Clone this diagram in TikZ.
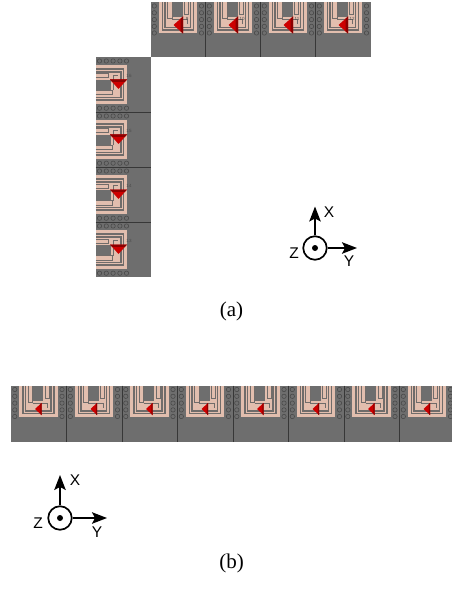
\documentclass[tikz,border=0pt]{standalone}
\usepackage{fontspec}
\setmainfont{Liberation Serif}
\newfontfamily\axisfont{Liberation Sans}
\usetikzlibrary{arrows.meta}
\definecolor{basegray}{RGB}{110,110,110}
\definecolor{copper}{RGB}{226,190,174}
\definecolor{linegray}{RGB}{112,108,106}
\definecolor{viared}{RGB}{205,0,0}
\definecolor{viadark}{RGB}{140,0,0}
\tikzset{
  x=1pt,y=-1pt,
  base/.style={fill=basegray,draw=none},
  seam/.style={draw=black!50!basegray,line width=.6pt},
  padring/.style={draw=black!35!basegray,line width=.55pt,fill=basegray},
  trace/.style={draw=linegray,line width=1.5pt},
  inner trace/.style={draw=linegray,line width=1pt},
  marker/.style={fill=viared,draw=none},
  markerdark/.style={fill=viadark,draw=none},
  axisline/.style={line width=1.4pt,-{Stealth[length=15pt,width=11.5pt,inset=3pt]}},
  axisring/.style={circle,draw=black,line width=1.7pt,minimum size=23.5pt,inner sep=0pt},
  axisdot/.style={circle,fill=black,minimum size=6pt,inner sep=0pt},
  axislabel/.style={font=\axisfont\fontsize{15.5}{15.5}\selectfont,inner sep=0pt},
  caption/.style={font=\fontsize{21}{21}\selectfont,inner sep=0pt},
  tiny label/.style={font=\axisfont\fontsize{4.5}{4.5}\selectfont,inner sep=0pt,text=black!70}
}
% one cell in local coordinates: opening towards local top, width #1
\newcommand{\unitcell}[1]{%
  \fill[base] (0,0) rectangle (#1,55);
  \foreach \dy in {4,10.8,17.6,24.4,31}{
    \draw[padring] (3.8,\dy) circle (2.2);
    \draw[padring] (51,\dy) circle (2.2);
  }
  \fill[copper] (8,0) rectangle (46.8,31.5);
  \draw[trace] (12,0) -- (12,28) -- (42.8,28) -- (42.8,0);
  \draw[trace] (14.7,0) -- (14.7,25.3) -- (40.1,25.3) -- (40.1,0);
  \fill[basegray] (22,0) rectangle (32,15);
  \draw[inner trace] (17,0) -- (17,17) -- (21.5,17) -- (21.5,0);
  \draw[inner trace] (34,0) -- (34,13) -- (38,13) -- (38,0);
  \draw[inner trace] (21.5,17.5) -- (36.5,17.5) -- (36.5,22);
}
\newcommand{\bigvia}{%
  \fill[marker] (23,23) -- (32.5,14.5) -- (32.5,31.5) -- cycle;
  \fill[markerdark] (30.2,16.5) -- (32.5,14.5) -- (32.5,31.5) -- (30.2,29.5) -- cycle;
}
\begin{document}
\begin{tikzpicture}
\useasboundingbox (0,0) rectangle (451,596);
% top row of (a)
\foreach \cx/\lbl in {150.5/9,205.5/10,260.5/11,315.5/12}{
  \begin{scope}[shift={(\cx,2)}]
    \unitcell{55}
    \bigvia
    \node[tiny label] (top\lbl) at (36.5,16.5) {\lbl};
  \end{scope}
}
\draw[seam] (205.5,2) -- (205.5,57);
\draw[seam] (260.5,2) -- (260.5,57);
\draw[seam] (315.5,2) -- (315.5,57);
% left column of (a)
\foreach \cy/\lbl in {112/16,167/15,222/14,277/13}{
  \begin{scope}[shift={(95.5,\cy)},x={(0pt,1pt)},y={(1pt,0pt)}]
    \unitcell{55}
    \bigvia
    \node[tiny label] (left\lbl) at (36,33.5) {\lbl};
  \end{scope}
}
\draw[seam] (95.5,112) -- (150.5,112);
\draw[seam] (95.5,167) -- (150.5,167);
\draw[seam] (95.5,222) -- (150.5,222);
% row of (b)
\foreach \cx in {11,66.5,122,177.5,233,288.5,344,399.5}{
  \begin{scope}[shift={(\cx,385.5)}]
    \unitcell{55.5}
    \fill[base] (0,33) rectangle (55.5,56.5);
    \fill[marker] (24,23.5) -- (30.5,17.5) -- (30.5,29.5) -- cycle;
    \fill[markerdark] (29.3,18.6) -- (30.5,17.5) -- (30.5,29.5) -- (29.3,28.4) -- cycle;
  \end{scope}
}
\foreach \sx in {66.5,122,177.5,233,288.5,344,399.5}{
  \draw[seam] (\sx,385.5) -- (\sx,442);
}
% axes (a)
\node[axisring] (ringa) at (315,248) {};
\node[axisdot] (dota) at (315,248) {};
\coordinate (xtipa) at (315,206.5);
\coordinate (ytipa) at (357,248);
\draw[axisline] (ringa.north) -- (xtipa);
\draw[axisline] (ringa.east) -- (ytipa);
\node[axislabel] (xa) at (329,212.5) {X};
\node[axislabel] (ya) at (349,261) {Y};
\node[axislabel] (za) at (294,253) {Z};
% axes (b)
\node[axisring] (ringb) at (60,518) {};
\node[axisdot] (dotb) at (60,518) {};
\coordinate (xtipb) at (60,475);
\coordinate (ytipb) at (107,518);
\draw[axisline] (ringb.north) -- (xtipb);
\draw[axisline] (ringb.east) -- (ytipb);
\node[axislabel] (xb) at (75,480.5) {X};
\node[axislabel] (yb) at (97,532) {Y};
\node[axislabel] (zb) at (38,523) {Z};
% captions
\node[caption] (capa) at (231.5,311) {(a)};
\node[caption] (capb) at (231.5,563) {(b)};
\end{tikzpicture}
\end{document}
